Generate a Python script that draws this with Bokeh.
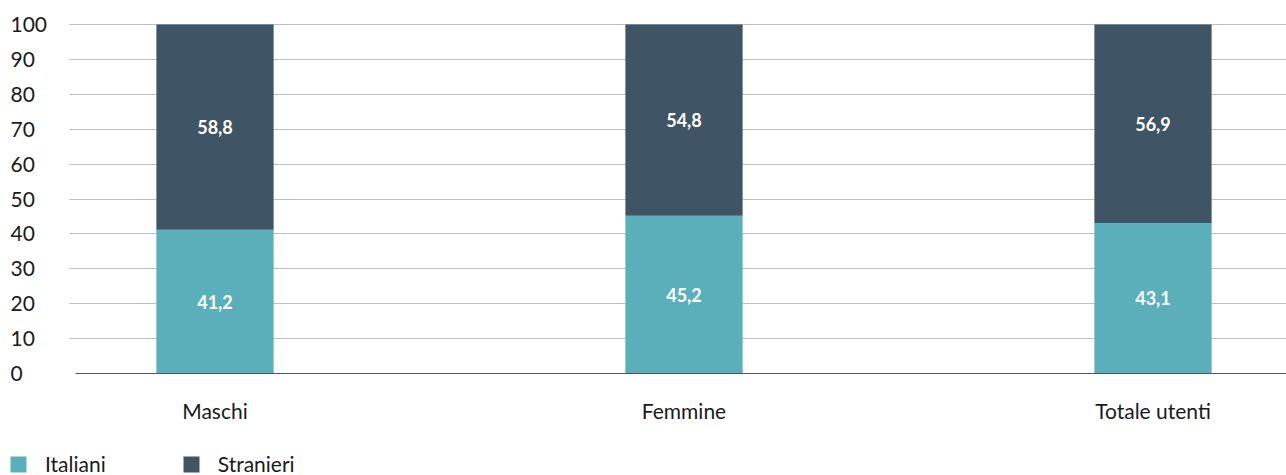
from bokeh.plotting import figure
from bokeh.models import (ColumnDataSource, Range1d, FixedTicker, LabelSet,
                          Legend, LegendItem)
from bokeh.core.properties import value
from bokeh.embed import file_html
from bokeh.resources import INLINE

# Quota di utenti per genere e cittadinanza (%)
categories = ["Maschi", "Femmine", "Totale utenti"]
italiani = [41.2, 45.2, 43.1]
stranieri = [58.8, 54.8, 56.9]
y_ticks = [0, 10, 20, 30, 40, 50, 60, 70, 80, 90, 100]

FONT = "Lato"
C_ITA = "#5aafba"
C_STR = "#3f5566"
TXT = "#1a1a1a"

W, H = 1286, 475
# Scale of the drawing area: pixels per category step and per percentage point
X0_PX, STEP_PX = 214.5, 469.0
Y0_PX, UNIT_PX = 373.0, 3.49


def px_to_x(px):
    return (px - X0_PX) / STEP_PX


def py_to_y(py):
    return (Y0_PX - py) / UNIT_PX


xs = list(range(len(categories)))
src = ColumnDataSource(dict(
    x=xs,
    ita=italiani,
    stra=stranieri,
    top=[a + b for a, b in zip(italiani, stranieri)],
    ita_mid=[a / 2 for a in italiani],
    stra_mid=[a + b / 2 for a, b in zip(italiani, stranieri)],
    ita_txt=[f"{v:.1f}".replace(".", ",") for v in italiani],
    stra_txt=[f"{v:.1f}".replace(".", ",") for v in stranieri],
))

p = figure(width=W, height=H, output_backend="svg", toolbar_location=None,
           x_range=Range1d(px_to_x(0), px_to_x(W)),
           y_range=Range1d(py_to_y(H), py_to_y(0)),
           min_border=0)
p.outline_line_color = None
p.background_fill_color = "white"
p.border_fill_color = "white"

r_ita = p.vbar(x="x", bottom=0, top="ita", width=0.25, source=src,
               fill_color=C_ITA, line_color=None)
r_str = p.vbar(x="x", bottom="ita", top="top", width=0.25, source=src,
               fill_color=C_STR, line_color=None)

# Valori al centro dei segmenti
for ycol, tcol in (("ita_mid", "ita_txt"), ("stra_mid", "stra_txt")):
    p.add_layout(LabelSet(x="x", y=ycol, text=tcol, source=src,
                          text_align="center", text_baseline="middle",
                          text_color="white", text_font=value(FONT),
                          text_font_style="bold", text_font_size="18px"))

# Asse x ancorato allo zero
xaxis = p.xaxis[0]
xaxis.fixed_location = 0
xaxis.bounds = (px_to_x(75), px_to_x(W))
xaxis.ticker = FixedTicker(ticks=xs)
xaxis.major_label_overrides = {i: c for i, c in enumerate(categories)}
xaxis.major_label_text_font = FONT
xaxis.major_label_text_font_size = "21px"
xaxis.major_label_text_color = TXT
xaxis.major_tick_line_color = None
xaxis.minor_tick_line_color = None
xaxis.axis_line_color = "#555555"
xaxis.axis_line_width = 1
xaxis.major_label_standoff = 18
p.xgrid.grid_line_color = None

# Griglia orizzontale ed etichette dell'asse y allineate a sinistra
p.yaxis.visible = False
p.ygrid.ticker = FixedTicker(ticks=[t for t in y_ticks if t > 0])
p.ygrid.cross_bounds = (px_to_x(69), px_to_x(W))
p.ygrid.grid_line_color = "#bfbfbf"
p.ygrid.grid_line_width = 1

ysrc = ColumnDataSource(dict(y=y_ticks, x=[px_to_x(10)] * len(y_ticks),
                             t=[str(v) for v in y_ticks]))
p.add_layout(LabelSet(x="x", y="y", text="t", source=ysrc,
                      text_align="left", text_baseline="middle",
                      text_color=TXT, text_font=value(FONT),
                      text_font_size="21px"))

legend = Legend(items=[LegendItem(label="Italiani", renderers=[r_ita]),
                       LegendItem(label="Stranieri", renderers=[r_str])],
                orientation="horizontal", location=(8, -1))
legend.label_text_font = FONT
legend.label_text_font_size = "21px"
legend.label_text_color = TXT
legend.glyph_width = 20
legend.glyph_height = 20
legend.label_standoff = 17
legend.spacing = 75
legend.padding = 0
legend.margin = 0
legend.border_line_color = None
legend.background_fill_alpha = 0
p.add_layout(legend, "center")

open("out.html", "w").write(file_html(p, INLINE))
